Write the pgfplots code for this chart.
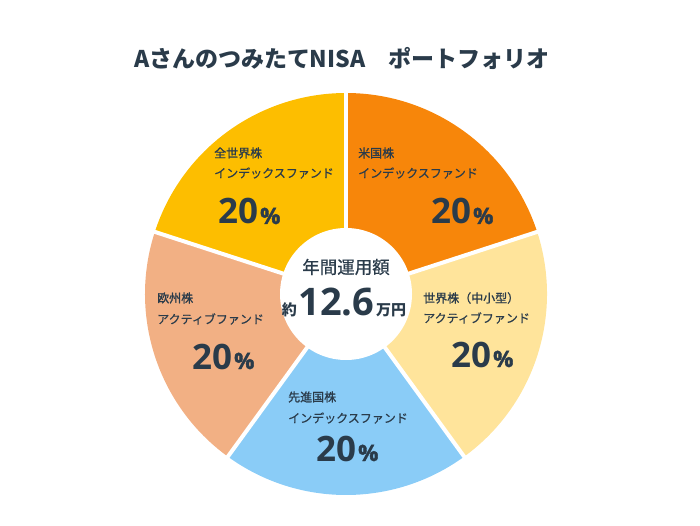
\documentclass[border=0pt]{standalone}
\usepackage{pgfplots}
\pgfplotsset{compat=1.18}
\usepackage{pgfplotstable}
\usepackage{fontspec}
\setmainfont{Open Sans}
\newfontfamily\pctf[FakeBold=1.8]{Open Sans}
\newfontfamily\jp{Noto Sans CJK JP}
\newfontfamily\jpm[FakeBold=1.2]{Noto Sans CJK JP}
\newfontfamily\jpr[FakeBold=0.5]{Noto Sans CJK JP}
\definecolor{txt}{HTML}{2A3B4A}
\definecolor{slice0}{HTML}{F7860A}
\definecolor{slice1}{HTML}{FFE49B}
\definecolor{slice2}{HTML}{8ACCF7}
\definecolor{slice3}{HTML}{F2B084}
\definecolor{slice4}{HTML}{FDBE00}
% shares in percent, clockwise from 12 o'clock
\pgfplotstableread{
fund share
US 20
SmallCap 20
Developed 20
Europe 20
AllWorld 20
}\portfolio
\begin{document}
\begin{tikzpicture}
\xdef\cum{0}
\foreach \i in {0,...,4}{
  \pgfplotstablegetelem{\i}{share}\of\portfolio
  \pgfmathsetmacro{\a}{90-3.6*\cum}
  \pgfmathsetmacro{\b}{90-3.6*(\cum+\pgfplotsretval)}
  \expandafter\xdef\csname sa\i\endcsname{\a}
  \expandafter\xdef\csname sb\i\endcsname{\b}
  \pgfmathsetmacro{\newcum}{\cum+\pgfplotsretval}
  \xdef\cum{\newcum}
}
\useasboundingbox (0,0) rectangle (700pt,525pt);
\begin{axis}[x=1pt,y=1pt,xmin=0,xmax=700,ymin=0,ymax=525,
  scale only axis,hide axis,clip=false,at={(0,0)},anchor=south west]
\pgfplotsinvokeforeach{0,...,4}{
  \edef\temp{\noexpand\fill[slice#1] (axis cs:346,231) -- ++(\csname sa#1\endcsname:201pt) arc[start angle=\csname sa#1\endcsname,end angle=\csname sb#1\endcsname,radius=201pt] -- cycle;}
  \temp
}
\pgfplotsinvokeforeach{0,...,4}{
  \edef\temp{\noexpand\draw[white,line width=4pt] (axis cs:346,231) -- ++(\csname sa#1\endcsname:204pt);}
  \temp
}
\fill[white] (axis cs:346,231) circle[radius=66pt];
% title
\node[txt,anchor=center] at (axis cs:342,467) {\jp\bfseries\fontsize{23}{26}\selectfont Aさんのつみたて\kern-1pt NISA　ポートフォリオ};
% labels
\tikzset{lab/.style={txt,anchor=west,inner sep=0pt,font=\jpr\fontsize{12}{14}\selectfont},
         pct/.style={txt,anchor=base west,inner sep=0pt}}
\newcommand\pc{{\bfseries\fontsize{35}{36}\selectfont 20\kern2pt\pctf\fontsize{22.5}{24}\selectfont\%}}
\node[lab] at (axis cs:358,372) {\jpm 米国株};
\node[lab] at (axis cs:358,352) {インデックスファンド};
\node[pct] at (axis cs:431,301) {\pc};
\node[lab] at (axis cs:214,372) {\jpm 全世界株};
\node[lab] at (axis cs:214,352) {インデックスファンド};
\node[pct] at (axis cs:218,301) {\pc};
\node[lab] at (axis cs:423,227) {\jpm 世界株（中小型）};
\node[lab] at (axis cs:423,207) {アクティブファンド};
\node[pct] at (axis cs:451,158) {\pc};
\node[lab] at (axis cs:157,227) {\jpm 欧州株};
\node[lab] at (axis cs:157,206) {アクティブファンド};
\node[pct] at (axis cs:192,156) {\pc};
\node[lab] at (axis cs:288,128) {\jpm 先進国株};
\node[lab] at (axis cs:288,107) {インデックスファンド};
\node[pct] at (axis cs:316,64) {\pc};
% centre
\node[txt,anchor=center] at (axis cs:346,258) {\jpr\fontsize{17.5}{20}\selectfont 年間運用額};
\node[txt,anchor=base,inner sep=0pt] at (axis cs:344,210) {{\jp\bfseries\fontsize{15}{16}\selectfont 約}\,{\bfseries\fontsize{38}{40}\selectfont 12.6}\,{\jp\bfseries\fontsize{15}{16}\selectfont 万円}};
\end{axis}
\end{tikzpicture}
\end{document}
